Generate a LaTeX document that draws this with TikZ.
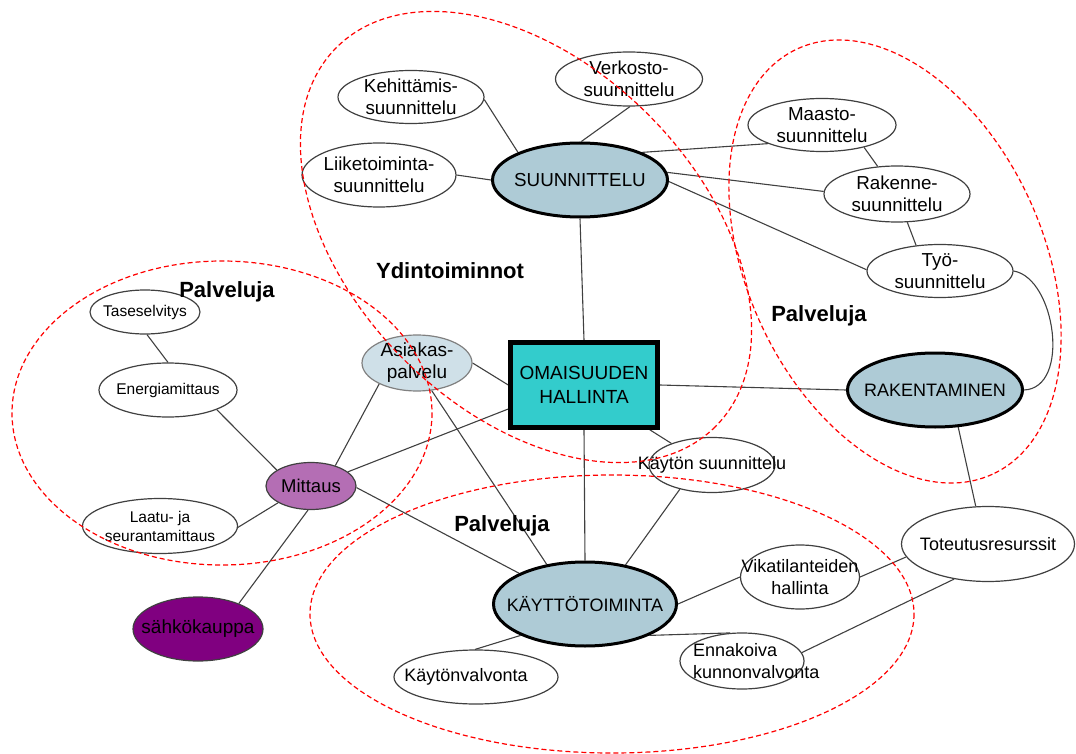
\documentclass[tikz,border=0pt]{standalone}
\usepackage{fontspec}
\setmainfont{Liberation Sans}
\usetikzlibrary{shapes.geometric}
\pgfdeclarelayer{bg}
\pgfdeclarelayer{fg}
\pgfsetlayers{bg,main,fg}
\definecolor{linegray}{HTML}{404040}
\definecolor{corefill}{HTML}{AECBD6}
\definecolor{custfill}{HTML}{CFE0E8}
\definecolor{measfill}{HTML}{B46EB4}
\definecolor{tradefill}{HTML}{800080}
\definecolor{hubfill}{HTML}{33CCCC}
\tikzset{
  base/.style={ellipse, draw=linegray, line width=1.2pt, fill=white, inner sep=-60pt,
    font=\fontsize{18}{22}\selectfont, align=center, text=black},
  core/.style={base, fill=corefill, draw=black, line width=3pt},
  bigtxt/.style={font=\fontsize{18.8}{22.5}\selectfont},
  smalltxt/.style={font=\fontsize{15.5}{19}\selectfont},
  plaintxt/.style={font=\fontsize{18}{22}\selectfont, inner sep=0pt},
  link/.style={draw=linegray, line width=1.1pt},
  zone/.style={draw=red, dash pattern=on 5pt off 3pt, line width=1.2pt},
  tag/.style={font=\bfseries\fontsize{22}{26}\selectfont, inner sep=0pt},
}
\begin{document}
\begin{tikzpicture}[x=1pt, y=-1pt]
\useasboundingbox (0,0) rectangle (1076,754);

% central hub
\node[rectangle, draw=black, line width=4.5pt, fill=hubfill, inner sep=-60pt,
  minimum width=147pt, minimum height=85pt, align=center,
  font=\fontsize{19}{24}\selectfont] (oma) at (584,385) {OMAISUUDEN\\HALLINTA};

% planning cluster
\node[core, bigtxt, minimum width=175pt, minimum height=74pt] (suun) at (580,180) {SUUNNITTELU};
\node[base, bigtxt, minimum width=146pt, minimum height=53pt] (keh) at (411,97) {Kehittämis-\\suunnittelu};
\node[base, bigtxt, minimum width=147pt, minimum height=54pt] (verk) at (629,79) {Verkosto-\\suunnittelu};
\node[base, bigtxt, minimum width=154pt, minimum height=64pt] (liik) at (379,175) {Liiketoiminta-\\suunnittelu};
\node[base, bigtxt, minimum width=148pt, minimum height=53pt] (maas) at (822,125) {Maasto-\\suunnittelu};
\node[base, bigtxt, minimum width=146pt, minimum height=56pt] (rake) at (897,194) {Rakenne-\\suunnittelu};
\node[base, bigtxt, minimum width=146pt, minimum height=53pt] (tyo) at (940,271) {Työ-\\suunnittelu};

% construction
\node[core, minimum width=175pt, minimum height=74pt] (rak) at (935,390) {RAKENTAMINEN};
\node[base, minimum width=173pt, minimum height=75pt] (tote) at (988,544) {Toteutusresurssit};

% measurement cluster
\node[base, smalltxt, minimum width=110pt, minimum height=44pt] (tase) at (145,312) {Taseselvitys};
\node[base, smalltxt, minimum width=138pt, minimum height=54pt] (ener) at (168,390) {Energiamittaus};
\node[base, smalltxt, minimum width=155pt, minimum height=55pt] (laat) at (160,526) {Laatu- ja\\seurantamittaus};
\node[base, fill=measfill, minimum width=90pt, minimum height=47pt,
  font=\fontsize{18.5}{22}\selectfont] (mitt) at (311,486) {Mittaus};
\node[base, fill=tradefill, minimum width=130pt, minimum height=64pt,
  font=\fontsize{19}{22}\selectfont] (sahk) at (198,629) {sähkökauppa};
\node[base, fill=custfill, draw=gray, minimum width=110pt, minimum height=56pt,
  font=\fontsize{19}{22}\selectfont] (asia) at (417,363) {Asiakas-\\palvelu};

% operation cluster
\node[core, minimum width=183pt, minimum height=84pt] (kayt) at (585,604) {KÄYTTÖTOIMINTA};
\node[base, minimum width=126pt, minimum height=55pt] (kays) at (712,465) {Käytön suunnittelu};
\node[base, minimum width=119pt, minimum height=64pt] (vika) at (800,577) {Vikatilanteiden\\hallinta};
\node[base, minimum width=164pt, minimum height=54pt] (kval) at (476,677) {};
\node[plaintxt] (kvalt) at (466,677) {Käytönvalvonta};
\node[base, minimum width=124pt, minimum height=56pt] (enna) at (742,661) {};
\node[plaintxt, anchor=west, align=left] (ennat) at (693,661) {Ennakoiva\\kunnonvalvonta};

% group titles
\node[tag] (ydin) at (450,271) {Ydintoiminnot};
\node[tag] (palv1) at (227,292) {Palveluja};
\node[tag] (palv2) at (819,316) {Palveluja};
\node[tag] (palv3) at (502,526) {Palveluja};

% connectors
\begin{pgfonlayer}{bg}
\draw[link] (suun.156) -- (keh.-2);
\draw[link] (suun.88) -- (verk.-88);
\draw[link] (suun.west) -- (liik.east);
\draw[link] (suun.24) -- (maas.199);
\draw[link] (suun.5) -- (rake.178);
\draw[link] (suun.-1) -- (tyo.179);
\draw[link] (maas.-28) -- (rake.125);
\draw[link] (rake.-70) -- (tyo.133);
\draw[link] (tyo.east) .. controls ([shift={(42pt,-7pt)}]tyo.east) and ([shift={(47pt,2pt)}]rak.east) .. (rak.east);
\draw[link] (suun.south) -- (oma.north);
\draw[link] (oma.east) -- (rak.west);
\draw[link] (asia.east) -- (oma.west);
\draw[link] ([yshift=-24pt]oma.west) -- (mitt.21);
\draw[link] ([xshift=-10pt]oma.south east) -- (kays.152);
\draw[link] (oma.south) -- (kayt.north);
\draw[link] (asia.-62) -- (kayt.134);
\draw[link] (asia.209) -- (mitt.40);
\draw[link] (mitt.155) -- (ener.-22);
\draw[link] (ener.north) -- (tase.-85);
\draw[link] (mitt.207) -- (laat.-1);
\draw[link] (mitt.-97) -- (sahk.32);
\draw[link] (mitt.-2) -- (kayt.155);
\draw[link] (kayt.44) -- (kays.-143);
\draw[link] (kayt.east) -- (vika.west);
\draw[link] (kayt.-154) -- (kval.92);
\draw[link] (kayt.-26) -- (enna.113);
\draw[link] (vika.east) -- (tote.189);
\draw[link] (enna.8) -- (tote.226);
\draw[link] (rak.-58) -- (tote.108);
\end{pgfonlayer}

% dashed group outlines
\begin{pgfonlayer}{fg}
\begin{scope}[shift={(526,237)}, rotate=-45]
  \draw[zone] (0,0) ellipse [x radius=268, y radius=173];
\end{scope}
\begin{scope}[shift={(895,261.5)}, rotate=-65.4]
  \draw[zone] (0,0) ellipse [x radius=234, y radius=148];
\end{scope}
\draw[zone] (222,413) ellipse [x radius=210, y radius=152];
\draw[zone] (612,614) ellipse [x radius=302, y radius=139];
\end{pgfonlayer}
\end{tikzpicture}
\end{document}
